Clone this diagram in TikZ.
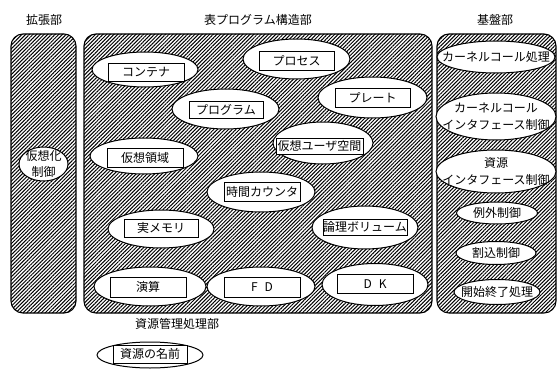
\documentclass[tikz,border=0pt]{standalone}
\usepackage{fontspec}
\newfontfamily\jp{Noto Sans CJK JP}
\usetikzlibrary{shapes.geometric,patterns.meta}
\tikzset{
  every node/.style={font=\jp\fontsize{12}{15}\selectfont, inner sep=0pt},
  panel/.style={draw, line width=1.1pt, rounded corners=12pt,
    pattern={Lines[angle=45,distance=2.6pt,line width=1pt]}},
  oval/.style={draw, fill=white, ellipse, line width=1pt},
  box/.style={draw, fill=white, rectangle, line width=0.7pt},
  txt/.style={align=center},
  two/.style={align=center, font=\jp\fontsize{12}{16.5}\selectfont},
}
\begin{document}
\begin{tikzpicture}[x=1pt,y=-1pt]
\useasboundingbox (0,0) rectangle (559,369);
% titles
\node[txt] (t1) at (44,20) {拡張部};
\node[txt] (t2) at (258,20) {表プログラム構造部};
\node[txt] (t3) at (495,20) {基盤部};
% panels
\node[panel, minimum width=65, minimum height=279] (pl) at (43.5,173.5) {};
\node[panel, minimum width=348, minimum height=279] (pm) at (258,173.5) {};
\node[panel, minimum width=119, minimum height=279] (pr) at (496.5,173.5) {};
% left
\node[oval, minimum width=49, minimum height=34] (e0) at (43.5,164) {};
\node[two] at (e0) {仮想化\\制御};
% middle
\node[oval, minimum width=106, minimum height=35] (e1) at (145,69.5) {};
\node[box, minimum width=76, minimum height=18] (b1) at (146,72) {コンテナ};
\node[oval, minimum width=107, minimum height=40] (e2) at (296.5,59) {};
\node[box, minimum width=75, minimum height=19] (b2) at (296.5,60.5) {プロセス};
\node[oval, minimum width=109, minimum height=41] (e3) at (372.5,97.5) {};
\node[box, minimum width=75, minimum height=19] (b3) at (372.5,97.5) {プレート};
\node[oval, minimum width=107, minimum height=40] (e4) at (225.5,109) {};
\node[box, minimum width=74, minimum height=17] (b4) at (226,110) {プログラム};
\node[oval, minimum width=100, minimum height=42] (e5) at (323,143) {};
\node[box, minimum width=87, minimum height=16] (b5) at (319.5,146) {仮想ユーザ空間};
\node[oval, minimum width=108, minimum height=36] (e6) at (144,156) {};
\node[box, minimum width=76, minimum height=19] (b6) at (145,157.5) {仮想領域};
\node[oval, minimum width=108, minimum height=40] (e7) at (261,192) {};
\node[box, minimum width=76, minimum height=19] (b7) at (262,192) {時間カウンタ};
\node[oval, minimum width=106, minimum height=38] (e8) at (161,229) {};
\node[box, minimum width=74, minimum height=18] (b8) at (161,228) {実メモリ};
\node[oval, minimum width=106, minimum height=43] (e9) at (365,227.5) {};
\node[box, minimum width=84, minimum height=16] (b9) at (365,227) {論理ボリューム};
\node[oval, minimum width=112, minimum height=39] (e10) at (150,286.5) {};
\node[box, minimum width=76, minimum height=20] (b10) at (148,287) {演算};
\node[oval, minimum width=108, minimum height=39] (e11) at (261,286.5) {};
\node[box, minimum width=76, minimum height=20] (b11) at (262,287) {F\hspace{7pt}D};
\node[oval, minimum width=106, minimum height=42] (e12) at (375,284.5) {};
\node[box, minimum width=76, minimum height=19] (b12) at (375,284) {D\hspace{7pt}K};
% right
\node[oval, minimum width=118, minimum height=32] (r1) at (496,57) {};
\node[txt] at (r1) {カーネルコール処理};
\node[oval, minimum width=120, minimum height=47] (r2) at (496,116.5) {};
\node[two] at (r2) {カーネルコール\\インタフェース制御};
\node[oval, minimum width=120, minimum height=43] (r3) at (496,171.5) {};
\node[two] at (r3) {資源\\インタフェース制御};
\node[oval, minimum width=81, minimum height=22] (r4) at (497,213) {};
\node[txt] at (r4) {例外制御};
\node[oval, minimum width=80, minimum height=23] (r5) at (496,253) {};
\node[txt] at (r5) {割込制御};
\node[oval, minimum width=86, minimum height=25] (r6) at (497,292) {};
\node[txt] at (r6) {開始終了処理};
% bottom
\node[txt] (t4) at (177,324) {資源管理処理部};
\node[oval, minimum width=106, minimum height=26] (e13) at (150,355) {};
\node[box, minimum width=74, minimum height=18] (b13) at (150,354) {資源の名前};
\end{tikzpicture}
\end{document}
